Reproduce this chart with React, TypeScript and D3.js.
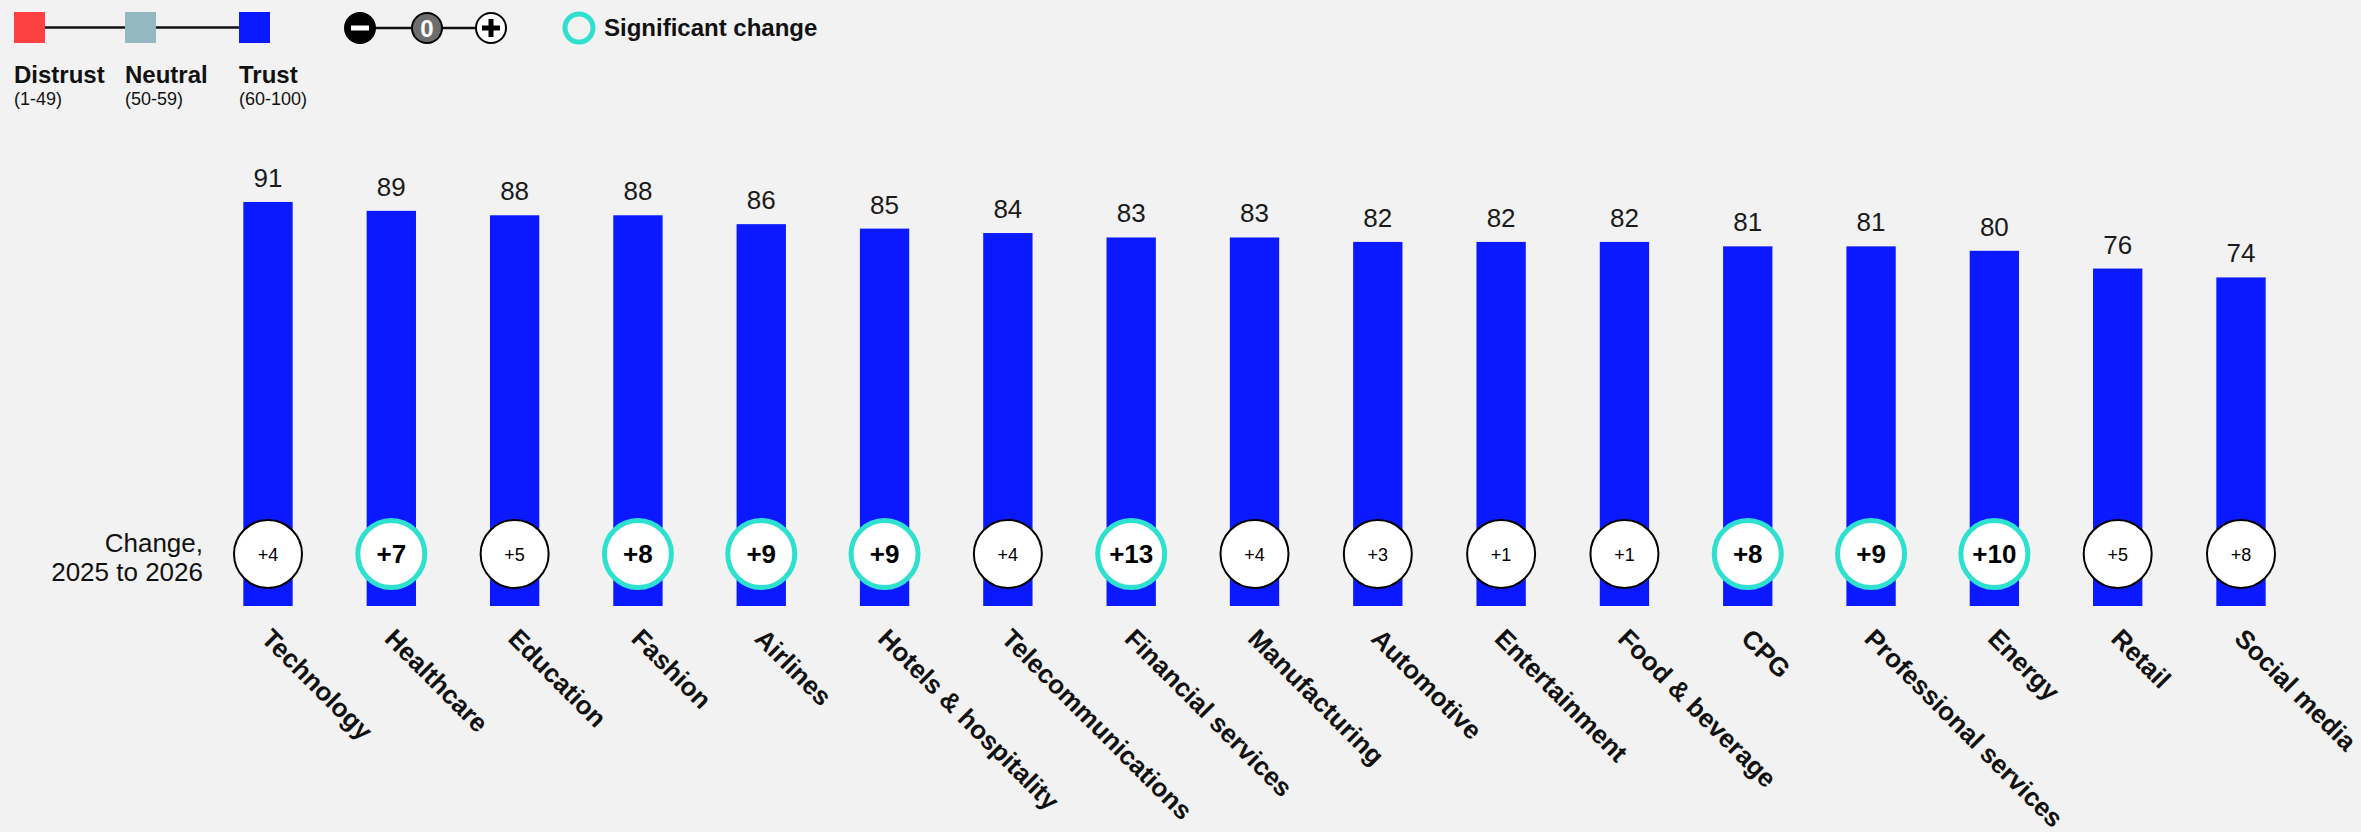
import React from "react";
import * as d3 from "d3";

const categories = ["Technology", "Healthcare", "Education", "Fashion", "Airlines", "Hotels & hospitality", "Telecommunications", "Financial services", "Manufacturing", "Automotive", "Entertainment", "Food & beverage", "CPG", "Professional services", "Energy", "Retail", "Social media"];
const trustValues = [91, 89, 88, 88, 86, 85, 84, 83, 83, 82, 82, 82, 81, 81, 80, 76, 74];
const changes = [4, 7, 5, 8, 9, 9, 4, 13, 4, 3, 1, 1, 8, 9, 10, 5, 8];
const significant = [false, true, false, true, true, true, false, true, false, false, false, false, true, true, true, false, false];
const legendItems = [
  { label: "Distrust", range: "(1-49)", color: "#FF4040" },
  { label: "Neutral", range: "(50-59)", color: "#93B8C0" },
  { label: "Trust", range: "(60-100)", color: "#0A19FF" },
];

const W = 2361;
const H = 832;
const FONT = "'Liberation Sans', Arial, Helvetica, sans-serif";
const BAR = "#0A19FF";
const TEAL = "#2EE0CF";

export default function App() {
  const x = d3.scalePoint<string>().domain(categories).range([268, 2241]);
  const y = d3.scaleLinear().domain([0, 100]).range([606, 162]);
  const barW = x.step() * 0.4;
  const circleY = 554;

  const legendX = [14, 125, 239];
  const sq = 31;

  return (
    <svg width={W} height={H} style={{ position: "absolute", left: 0, top: 0, background: "#F2F2F2" }} fontFamily={FONT}>
      <rect x={0} y={0} width={W} height={H} fill="#F2F2F2" />
      {/* Legend: trust scale */}
      <line x1={legendX[0] + sq} x2={legendX[1]} y1={27.5} y2={27.5} stroke="#111" strokeWidth={2.5} />
      <line x1={legendX[1] + sq} x2={legendX[2]} y1={27.5} y2={27.5} stroke="#111" strokeWidth={2.5} />
      {legendItems.map((d, i) => (
        <g key={d.label}>
          <rect x={legendX[i]} y={12} width={sq} height={sq} fill={d.color} />
          <text x={legendX[i]} y={83} fontSize={24} fontWeight="bold" fill="#111">{d.label}</text>
          <text x={legendX[i]} y={105} fontSize={18} fill="#111">{d.range}</text>
        </g>
      ))}
      {/* Legend: change symbols */}
      <line x1={360} x2={491} y1={28} y2={28} stroke="#111" strokeWidth={2.5} />
      <circle cx={360} cy={28} r={15} fill="#000" stroke="#000" strokeWidth={2} />
      <rect x={351} y={25.5} width={18} height={5} fill="#fff" />
      <circle cx={427} cy={28} r={15} fill="#6E6E6E" stroke="#000" strokeWidth={2} />
      <text x={427} y={37} fontSize={24} fontWeight="bold" fill="#fff" textAnchor="middle">0</text>
      <circle cx={491} cy={28} r={15} fill="#fff" stroke="#000" strokeWidth={2} />
      <rect x={482} y={25.5} width={18} height={5} fill="#000" />
      <rect x={488.5} y={19} width={5} height={18} fill="#000" />
      <circle cx={579} cy={28} r={14} fill="none" stroke={TEAL} strokeWidth={5} />
      <text x={604} y={36} fontSize={24} fontWeight="bold" fill="#111">Significant change</text>

      {/* Change label */}
      <text x={203} y={552} fontSize={26} textAnchor="end" fill="#111">Change,</text>
      <text x={203} y={581} fontSize={26} textAnchor="end" fill="#111">2025 to 2026</text>

      {categories.map((c, i) => {
        const cx = x(c) as number;
        const top = y(trustValues[i]);
        const sig = significant[i];
        return (
          <g key={c}>
            <rect x={cx - barW / 2} y={top} width={barW} height={y(0) - top} fill={BAR} />
            <text x={cx} y={top - 15} fontSize={26} textAnchor="middle" fill="#1a1a1a">{trustValues[i]}</text>
            <circle cx={cx} cy={circleY} r={sig ? 33.5 : 34} fill="#fff" stroke={sig ? TEAL : "#000"} strokeWidth={sig ? 5 : 2} />
            <text x={cx} y={circleY + (sig ? 9 : 6.5)} fontSize={sig ? 26 : 18} fontWeight={sig ? "bold" : "normal"} textAnchor="middle" fill="#000">
              {"+" + changes[i]}
            </text>
            <text transform={`translate(${cx - 8},640) rotate(45)`} fontSize={26} fontWeight="bold" fill="#111">{c}</text>
          </g>
        );
      })}
    </svg>
  );
}
